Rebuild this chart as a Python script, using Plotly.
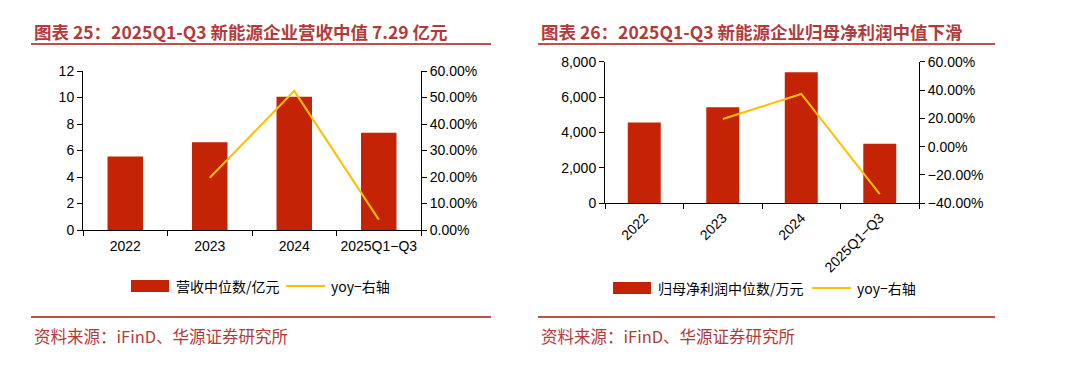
import plotly.graph_objects as go

# ---------- data ----------
cats = ["2022", "2023", "2024", "2025Q1-Q3"]
cats_labels = ["2022", "2023", "2024", "2025Q1−Q3"]
revenue_median = [5.55, 6.62, 10.06, 7.34]          # 亿元
revenue_yoy = [None, 0.197, 0.525, 0.039]
profit_median = [4570, 5420, 7400, 3370]            # 万元
profit_yoy = [None, 0.195, 0.372, -0.335]

title_left = "图表 25：2025Q1-Q3 新能源企业营收中值 7.29 亿元"
title_right = "图表 26：2025Q1-Q3 新能源企业归母净利润中值下滑"
leg_bar_left = "营收中位数/亿元"
leg_bar_right = "归母净利润中位数/万元"
leg_line = "yoy−右轴"
source = "资料来源：iFinD、华源证券研究所"

BAR = "#C42306"
LINE = "#FFC000"
TITLE_C = "#B33A3A"
W, H = 1080, 370
FONT = "Liberation Sans, Arial, Noto Sans CJK SC"
CJK = "Noto Sans CJK SC"

def px(x):
    return x / W

def py(y):
    return 1 - y / H

fig = go.Figure()

fig.add_trace(go.Bar(x=cats_labels, y=revenue_median, marker_color=BAR, width=0.42,
                     marker_line_width=0, xaxis="x", yaxis="y", showlegend=False))
fig.add_trace(go.Scatter(x=cats_labels, y=revenue_yoy, mode="lines", line=dict(color=LINE, width=2),
                         xaxis="x", yaxis="y2", showlegend=False))
fig.add_trace(go.Bar(x=cats_labels, y=profit_median, marker_color=BAR, width=0.42,
                     marker_line_width=0, xaxis="x2", yaxis="y3", showlegend=False))
fig.add_trace(go.Scatter(x=cats_labels, y=profit_yoy, mode="lines", line=dict(color=LINE, width=2),
                         xaxis="x2", yaxis="y4", showlegend=False))

ax_common = dict(showline=True, linecolor="black", linewidth=1, ticks="outside", ticklen=5,
                 tickcolor="black", showgrid=False, zeroline=False,
                 tickfont=dict(family=FONT, size=14, color="black"))

L_dom_x = [px(83), px(421)]
L_dom_y = [py(230), py(71)]
R_dom_x = [px(605), px(919)]
R_dom_y = [py(203.3), py(61.7)]

fig.update_layout(
    width=W, height=H, margin=dict(l=0, r=0, t=0, b=0, autoexpand=False),
    paper_bgcolor="white", plot_bgcolor="white", showlegend=False,
    xaxis=dict(domain=L_dom_x, anchor="y", tickson="boundaries", type="category", tickangle=0,
               ticklabelstandoff=3, **ax_common),
    yaxis=dict(domain=L_dom_y, anchor="x", range=[0, 12], dtick=2, **ax_common),
    yaxis2=dict(domain=L_dom_y, anchor="x", overlaying="y", side="right", range=[0, 0.6], dtick=0.1,
                tickformat=".2%", **ax_common),
    xaxis2=dict(domain=R_dom_x, anchor="y3", tickson="boundaries", type="category", tickangle=-45,
                **ax_common),
    yaxis3=dict(domain=R_dom_y, anchor="x2", range=[0, 8000], dtick=2000, tickformat=",", **ax_common),
    yaxis4=dict(domain=R_dom_y, anchor="x2", overlaying="y3", side="right", range=[-0.4, 0.6], dtick=0.2,
                tickformat=".2%", **ax_common),
)

shapes = []
annots = []

def add_header_footer(x0, x1, title):
    annots.append(dict(x=px(x0 + 1), y=py(31), xref="paper", yref="paper", text="<b>" + title + "</b>",
                       showarrow=False, xanchor="left", yanchor="middle",
                       font=dict(family=CJK, size=17.5, color=TITLE_C)))
    for yy in (44, 317):
        shapes.append(dict(type="line", xref="paper", yref="paper", x0=px(x0), x1=px(x1),
                           y0=py(yy), y1=py(yy), line=dict(color="#C0504D", width=2)))
    annots.append(dict(x=px(x0 + 1), y=py(336), xref="paper", yref="paper", text=source,
                       showarrow=False, xanchor="left", yanchor="middle",
                       font=dict(family=CJK, size=16.5, color=TITLE_C)))

add_header_footer(31, 491, title_left)
add_header_footer(538, 995, title_right)

def add_legend(x_bar, bar_label, x_line_gap, y):
    shapes.append(dict(type="rect", xref="paper", yref="paper", x0=px(x_bar), x1=px(x_bar + 38),
                       y0=py(y + 6), y1=py(y - 6), fillcolor=BAR, line=dict(width=0)))
    annots.append(dict(x=px(x_bar + 43), y=py(y), xref="paper", yref="paper", text=bar_label,
                       showarrow=False, xanchor="left", yanchor="middle",
                       font=dict(family=CJK, size=14, color="black")))
    shapes.append(dict(type="line", xref="paper", yref="paper", x0=px(x_line_gap), x1=px(x_line_gap + 39),
                       y0=py(y), y1=py(y), line=dict(color=LINE, width=2)))
    annots.append(dict(x=px(x_line_gap + 43), y=py(y), xref="paper", yref="paper", text=leg_line,
                       showarrow=False, xanchor="left", yanchor="middle",
                       font=dict(family=CJK, size=14, color="black")))

add_legend(131, leg_bar_left, 286, 286)
add_legend(613, leg_bar_right, 812, 288)

fig.update_layout(shapes=shapes, annotations=annots)

page_js = """
var de=document.documentElement, b=document.body;
de.style.margin='0'; de.style.padding='0'; de.style.overflow='hidden';
b.style.margin='0'; b.style.padding='0'; b.style.overflow='hidden';
"""
fig.write_html("out.html", config={"displayModeBar": False}, post_script=page_js)
